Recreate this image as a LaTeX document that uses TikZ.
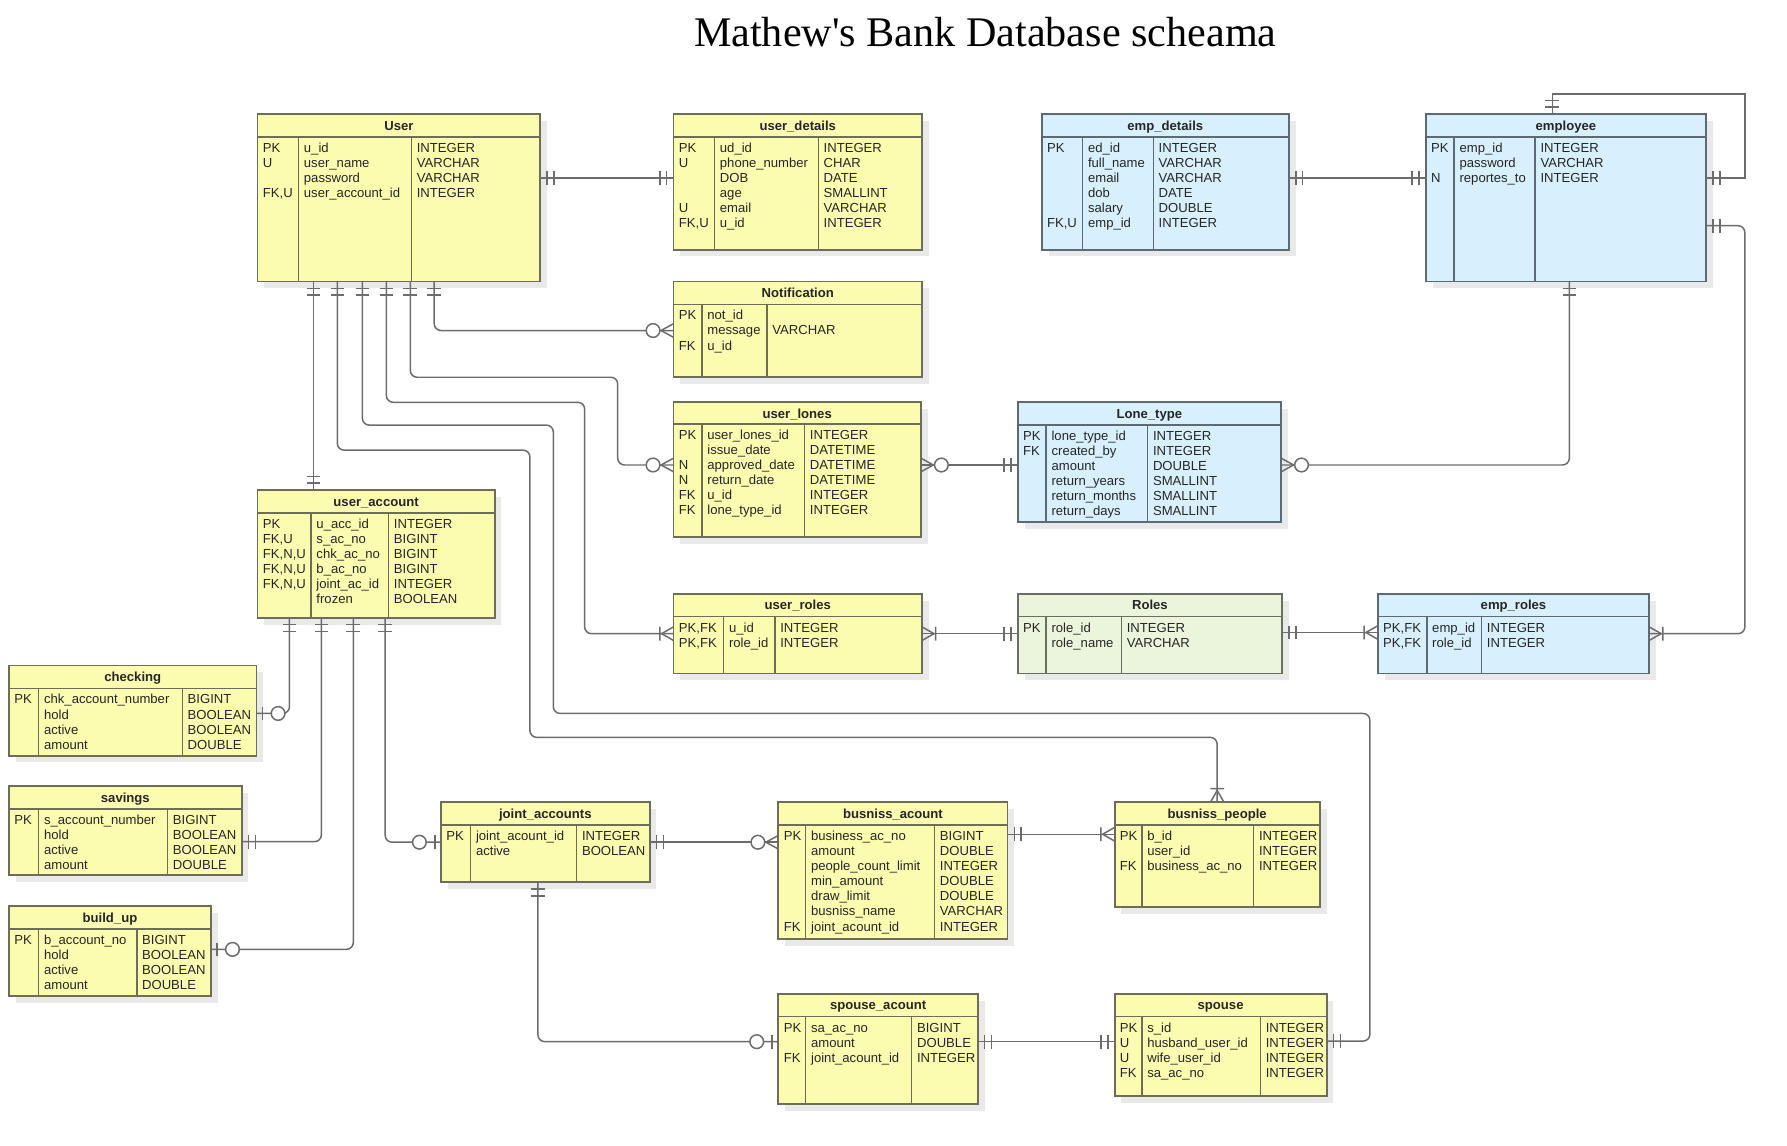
\documentclass[tikz,border=0pt]{standalone}
\usepackage{fontspec}
\setmainfont{Liberation Sans}
\newfontfamily\titlefont[Ligatures=TeXOff]{Liberation Serif}
\usetikzlibrary{calc}

\definecolor{tyel}{HTML}{FCFCB0}
\definecolor{byel}{HTML}{6E6E58}
\definecolor{tblu}{HTML}{D8F0FD}
\definecolor{bblu}{HTML}{5E6A72}
\definecolor{tgrn}{HTML}{EBF5DC}
\definecolor{bgrn}{HTML}{687062}
\definecolor{shadowc}{HTML}{E9E9E9}
\definecolor{linec}{HTML}{6C6C6C}
\definecolor{txtc}{HTML}{262626}

\tikzset{
  tablebox/.style={line width=1.6pt, inner sep=0pt, outer sep=0pt},
  tableline/.style={line width=1.3pt},
  celltext/.style={anchor=base west, inner sep=0pt, text=txtc,
    font=\fontsize{11.5}{13.2}\selectfont},
  headtext/.style={anchor=base, inner sep=0pt, text=txtc,
    font=\bfseries\fontsize{11.5}{13.2}\selectfont},
  conn/.style={draw=linec, line width=1.3pt},
}

% table frame: name, colour key, x1, y1, x2, y2, header bottom, divider 1, divider 2
\newcommand\ertable[9]{%
  \fill[shadowc] (#3+6,#4+6) rectangle (#5+6,#6+6);
  \node[tablebox,fill=t#2,draw=b#2,anchor=north west,
        minimum width={(#5-#3)*1pt},minimum height={(#6-#4)*1pt}] (#1) at (#3,#4) {};
  \draw[tableline,draw=b#2] (#3,#7) -- (#5,#7) (#8,#7) -- (#8,#6) (#9,#7) -- (#9,#6);
  \gdef\erN{#1}\gdef\erXa{#3}\gdef\erXb{#5}\gdef\erYa{#4}\gdef\erHb{#7}%
  \gdef\erDa{#8}\gdef\erDb{#9}%
}
% table texts: title, key column, name column, type column
\newcommand\erfields[4]{%
  \node[headtext] (\erN-h) at ({(\erXa+\erXb)/2},\erYa+14.2) {#1};
  \foreach \t [count=\i] in {#2} {\node[celltext] (\erN-k\i) at (\erXa+4.5,\erHb+0.5+13.2*\i) {\t};}
  \foreach \t [count=\i] in {#3} {\node[celltext] (\erN-n\i) at (\erDa+4.5,\erHb+0.5+13.2*\i) {\t};}
  \foreach \t [count=\i] in {#4} {\node[celltext] (\erN-t\i) at (\erDb+4.5,\erHb+0.5+13.2*\i) {\t};}
}

% relationship ends: point, direction pointing away from the table
\newcommand\mone[2]{\begin{scope}[shift={(#1)},rotate=#2]
  \draw[conn] (6,-6)--(6,6) (12,-6)--(12,6);\end{scope}}
\newcommand\zone[2]{\begin{scope}[shift={(#1)},rotate=#2]
  \draw[conn] (5.5,-6)--(5.5,6);\draw[conn,fill=white] (19,0) circle[radius=6pt];\end{scope}}
\newcommand\zmany[2]{\begin{scope}[shift={(#1)},rotate=#2]
  \draw[conn] (0,-6)--(11,0)--(0,6);\draw[conn,fill=white] (18,0) circle[radius=6pt];\end{scope}}
\newcommand\omany[2]{\begin{scope}[shift={(#1)},rotate=#2]
  \draw[conn] (0,-6)--(10.5,0)--(0,6) (12,-6)--(12,6);\end{scope}}

\begin{document}
\begin{tikzpicture}[x=1pt,y=-1pt]
\fill[white] (0,0) rectangle (1568,1005);
\useasboundingbox (0,0) rectangle (1568,1005);

\node[anchor=base, inner sep=0pt, font=\titlefont\fontsize{37}{40}\selectfont] (title)
  at (864.5,41) {Mathew's Bank Database scheama};

% ---------- tables ----------
\ertable{User}{yel}{226}{100}{474}{247}{120}{262}{361}
\erfields{User}{PK,U,,{FK,U}}{u\_id,user\_name,password,user\_account\_id}{INTEGER,VARCHAR,VARCHAR,INTEGER}

\ertable{udet}{yel}{591}{100}{809}{219}{120}{627}{718}
\erfields{user\_details}{PK,U,,,U,{FK,U}}{ud\_id,phone\_number,DOB,age,email,u\_id}{INTEGER,CHAR,DATE,SMALLINT,VARCHAR,INTEGER}

\ertable{notif}{yel}{591}{247}{809}{331}{267}{616}{673}
\erfields{Notification}{PK,,FK}{not\_id,message,u\_id}{,VARCHAR}

\ertable{ulones}{yel}{591}{353}{808}{471}{372}{616}{706}
\erfields{user\_lones}{PK,,N,N,FK,FK}{user\_lones\_id,issue\_date,approved\_date,return\_date,u\_id,lone\_type\_id}{INTEGER,DATETIME,DATETIME,DATETIME,INTEGER,INTEGER}

\ertable{uroles}{yel}{591}{521}{809}{591}{541}{635}{680}
\erfields{user\_roles}{{PK,FK},{PK,FK}}{u\_id,role\_id}{INTEGER,INTEGER}

\ertable{uacc}{yel}{226}{430}{434}{542}{450}{273}{341}
\erfields{user\_account}{PK,{FK,U},{FK,N,U},{FK,N,U},{FK,N,U},}{u\_acc\_id,s\_ac\_no,chk\_ac\_no,b\_ac\_no,joint\_ac\_id,frozen}{INTEGER,BIGINT,BIGINT,BIGINT,INTEGER,BOOLEAN}

\ertable{chk}{yel}{8}{584}{225}{663}{604}{34}{160}
\erfields{checking}{PK}{chk\_account\_number,hold,active,amount}{BIGINT,BOOLEAN,BOOLEAN,DOUBLE}

\ertable{sav}{yel}{8}{690}{212}{768}{710}{34}{147}
\erfields{savings}{PK}{s\_account\_number,hold,active,amount}{BIGINT,BOOLEAN,BOOLEAN,DOUBLE}

\ertable{bld}{yel}{8}{795}{185}{874}{815}{34}{120}
\erfields{build\_up}{PK}{b\_account\_no,hold,active,amount}{BIGINT,BOOLEAN,BOOLEAN,DOUBLE}

\ertable{joint}{yel}{387}{704}{570}{774}{724}{413}{506}
\erfields{joint\_accounts}{PK}{joint\_acount\_id,active}{INTEGER,BOOLEAN}

\ertable{bacc}{yel}{683}{704}{884}{824}{724}{707}{820}
\erfields{busniss\_acount}{PK,,,,,,FK}{business\_ac\_no,amount,people\_count\_limit,min\_amount,draw\_limit,busniss\_name,joint\_acount\_id}{BIGINT,DOUBLE,INTEGER,DOUBLE,DOUBLE,VARCHAR,INTEGER}

\ertable{bpeople}{yel}{978}{704}{1158}{796}{724}{1002}{1100}
\erfields{busniss\_people}{PK,,FK}{b\_id,user\_id,business\_ac\_no}{INTEGER,INTEGER,INTEGER}

\ertable{sacc}{yel}{683}{872}{858}{969}{892}{707}{800}
\erfields{spouse\_acount}{PK,,FK}{sa\_ac\_no,amount,joint\_acount\_id}{BIGINT,DOUBLE,INTEGER}

\ertable{spouse}{yel}{978}{872}{1164}{962}{892}{1002}{1106}
\erfields{spouse}{PK,U,U,FK}{s\_id,husband\_user\_id,wife\_user\_id,sa\_ac\_no}{INTEGER,INTEGER,INTEGER,INTEGER}

\ertable{empd}{blu}{914}{100}{1131}{219}{120}{950}{1012}
\erfields{emp\_details}{PK,,,,,{FK,U}}{ed\_id,full\_name,email,dob,salary,emp\_id}{INTEGER,VARCHAR,VARCHAR,DATE,DOUBLE,INTEGER}

\ertable{emp}{blu}{1251}{100}{1497}{247}{120}{1276}{1347}
\erfields{employee}{PK,,N}{emp\_id,password,reportes\_to}{INTEGER,VARCHAR,INTEGER}

\ertable{ltype}{blu}{893}{353}{1124}{458}{373}{918}{1007}
\erfields{Lone\_type}{PK,FK}{lone\_type\_id,created\_by,amount,return\_years,return\_months,return\_days}{INTEGER,INTEGER,DOUBLE,SMALLINT,SMALLINT,SMALLINT}

\ertable{roles}{grn}{893}{521}{1125}{591}{541}{918}{984}
\erfields{Roles}{PK}{role\_id,role\_name}{INTEGER,VARCHAR}

\ertable{eroles}{blu}{1209}{521}{1447}{591}{541}{1252}{1300}
\erfields{emp\_roles}{{PK,FK},{PK,FK}}{emp\_id,role\_id}{INTEGER,INTEGER}

% ---------- connector end points ----------
\coordinate (a1) at ($(User.north east)+(0,56)$);   \coordinate (b1) at ($(udet.north west)+(0,56)$);
\coordinate (a2) at ($(User.south west)+(49,0)$);   \coordinate (b2) at ($(uacc.north west)+(49,0)$);
\coordinate (a3) at ($(User.south west)+(155,0)$);  \coordinate (b3) at ($(notif.north west)+(0,43)$);
\coordinate (a4) at ($(User.south west)+(134,0)$);  \coordinate (b4) at ($(ulones.north west)+(0,55)$);
\coordinate (a5) at ($(User.south west)+(113,0)$);  \coordinate (b5) at ($(uroles.north west)+(0,35)$);
\coordinate (a6) at ($(User.south west)+(92,0)$);   \coordinate (b6) at ($(spouse.north east)+(0,41.5)$);
\coordinate (a7) at ($(User.south west)+(70,0)$);   \coordinate (b7) at ($(bpeople.north west)+(90,0)$);
\coordinate (a8) at ($(ulones.north east)+(0,55)$); \coordinate (b8) at ($(ltype.north west)+(0,55)$);
\coordinate (a9) at ($(ltype.north east)+(0,55)$);  \coordinate (b9) at ($(emp.south west)+(126,0)$);
\coordinate (a10) at ($(empd.north east)+(0,56)$);  \coordinate (b10) at ($(emp.north west)+(0,56)$);
\coordinate (a11) at ($(emp.north east)+(0,56)$);   \coordinate (b11) at ($(emp.north west)+(111,0)$);
\coordinate (a12) at ($(emp.north east)+(0,98)$);   \coordinate (b12) at ($(eroles.north east)+(0,35)$);
\coordinate (a13) at ($(uroles.north east)+(0,35)$); \coordinate (b13) at ($(roles.north west)+(0,35)$);
\coordinate (a14) at ($(roles.north east)+(0,34)$); \coordinate (b14) at ($(eroles.north west)+(0,34)$);
\coordinate (a15) at ($(uacc.south west)+(28,0)$);  \coordinate (b15) at ($(chk.north east)+(0,42)$);
\coordinate (a16) at ($(uacc.south west)+(56,0)$);  \coordinate (b16) at ($(sav.north east)+(0,48.5)$);
\coordinate (a17) at ($(uacc.south west)+(84,0)$);  \coordinate (b17) at ($(bld.north east)+(0,38)$);
\coordinate (a18) at ($(uacc.south west)+(112,0)$); \coordinate (b18) at ($(joint.north west)+(0,35)$);
\coordinate (a19) at ($(joint.north east)+(0,35)$); \coordinate (b19) at ($(bacc.north west)+(0,35)$);
\coordinate (a20) at ($(bacc.north east)+(0,28)$);  \coordinate (b20) at ($(bpeople.north west)+(0,28)$);
\coordinate (a21) at ($(joint.south west)+(85,0)$); \coordinate (b21) at ($(sacc.north west)+(0,42)$);
\coordinate (a22) at ($(sacc.north east)+(0,42)$);  \coordinate (b22) at ($(spouse.north west)+(0,42)$);

% ---------- connectors ----------
\begin{scope}[rounded corners=6pt]
\draw[conn] (a1) -- (b1);
\draw[conn] (a2) -- (b2);
\draw[conn] (a3) |- (b3);
\draw[conn] (a4) |- (542,331) |- (b4);
\draw[conn] (a5) |- (513,353) |- (b5);
\draw[conn] (a6) |- (485.5,373) |- (1202,626) |- (b6);
\draw[conn] (a7) |- (465,395) |- (1068,647) -- (b7);
\draw[conn] (a8) -- (b8);
\draw[conn] (a9) -| (b9);
\draw[conn] (a10) -- (b10);
\draw[conn] (a12) -| (1531,556) -- (b12);
\draw[conn] (a13) -- (b13);
\draw[conn] (a14) -- (b14);
\draw[conn] (a15) |- (b15);
\draw[conn] (a16) |- (b16);
\draw[conn] (a17) |- (b17);
\draw[conn] (a18) |- (b18);
\draw[conn] (a19) -- (b19);
\draw[conn] (a20) -- (b20);
\draw[conn] (a21) |- (b21);
\draw[conn] (a22) -- (b22);
\end{scope}
\draw[conn] (a11) -| (1531,82.5) -| (b11);

% ---------- relationship ends ----------
\mone{a1}{0}    \mone{b1}{180}
\mone{a2}{270}  \mone{b2}{90}
\mone{a3}{270}  \zmany{b3}{180}
\mone{a4}{270}  \zmany{b4}{180}
\mone{a5}{270}  \omany{b5}{180}
\mone{a6}{270}  \mone{b6}{0}
\mone{a7}{270}  \omany{b7}{90}
\zmany{a8}{0}   \mone{b8}{180}
\zmany{a9}{0}   \mone{b9}{270}
\mone{a10}{0}   \mone{b10}{180}
\mone{a11}{0}   \mone{b11}{90}
\mone{a12}{0}   \omany{b12}{0}
\omany{a13}{0}  \mone{b13}{180}
\mone{a14}{0}   \omany{b14}{180}
\mone{a15}{270} \zone{b15}{0}
\mone{a16}{270} \mone{b16}{0}
\mone{a17}{270} \zone{b17}{0}
\mone{a18}{270} \zone{b18}{180}
\mone{a19}{0}   \zmany{b19}{180}
\mone{a20}{0}   \omany{b20}{180}
\mone{a21}{270} \zone{b21}{180}
\mone{a22}{0}   \mone{b22}{180}
\end{tikzpicture}
\end{document}
